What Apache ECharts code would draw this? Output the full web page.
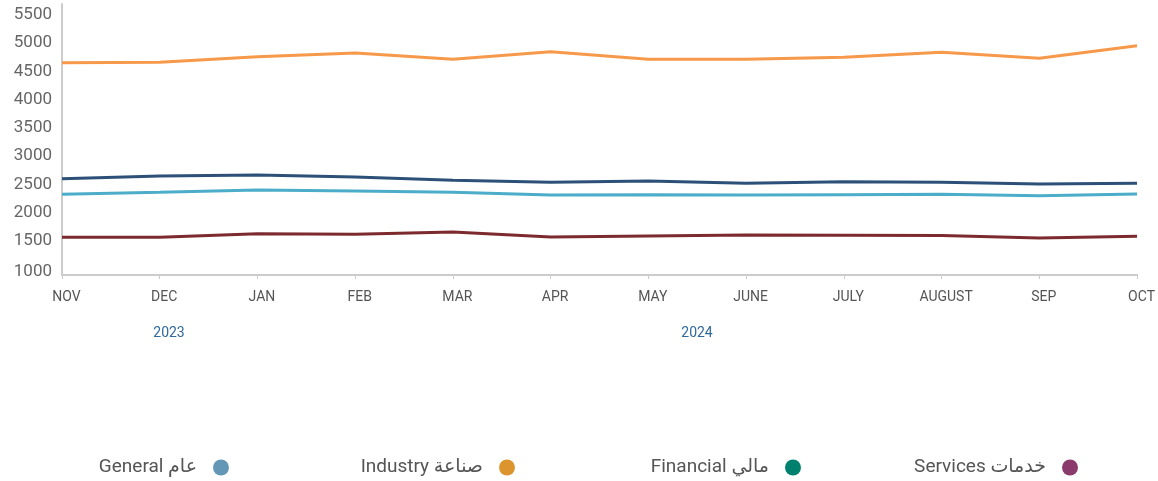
<!DOCTYPE html>
<html>
<head>
<meta charset="utf-8">
<script src="https://cdn.jsdelivr.net/npm/echarts@6/dist/echarts.min.js"></script>
<style>
  html, body { margin: 0; padding: 0; background: #fff; }
  #main { width: 1158px; height: 481px; }
</style>
</head>
<body>
<div id="main"></div>
<script>
// months (Nov 2023 - Oct 2024)
var months = ['NOV', 'DEC', 'JAN', 'FEB', 'MAR', 'APR', 'MAY', 'JUNE', 'JULY', 'AUGUST', 'SEP', 'OCT']
var yTicks = [1000, 1500, 2000, 2500, 3000, 3500, 4000, 4500, 5000, 5500]

// series values
var general = [2600, 2647, 2665, 2629, 2571, 2535, 2558, 2517, 2546, 2535, 2505, 2517]
var industry = [4655, 4662, 4761, 4827, 4715, 4850, 4715, 4715, 4750, 4839, 4733, 4956]
var financial = [2323, 2358, 2399, 2381, 2358, 2310, 2316, 2310, 2316, 2323, 2298, 2328]
var services = [1561, 1561, 1625, 1614, 1655, 1566, 1584, 1602, 1596, 1590, 1549, 1579]

var names = ['General عام', 'Industry صناعة', 'Financial مالي', 'Services خدمات']
var lineColors = ['#2d5078', '#f7994a', '#4badc9', '#7d2a2e']
var legendColors = ['#6497b6', '#dc952e', '#00806e', '#8b3b6b']
var legendRight = [929, 643, 357, 80]

var years = [{ text: '2023', x: 169 }, { text: '2024', x: 697 }]

var myChart = echarts.init(document.getElementById('main'))

var font = 'Roboto, "Noto Sans", "DejaVu Sans", sans-serif'

// one legend per item, so each sits where it does in the picture
var legends = names.map(function (n, i) {
  return {
    data: [{ name: n, itemStyle: { color: legendColors[i] } }],
    right: legendRight[i],
    top: 458,
    padding: 0,
    align: 'right',
    icon: 'circle',
    itemWidth: 16,
    itemHeight: 16,
    textStyle: { color: '#555', fontSize: 19, fontFamily: font, padding: [0, 11, 0, 0] }
  }
})

function makeLine(i, data) {
  return {
    name: names[i],
    type: 'line',
    data: data,
    symbol: 'none',
    lineStyle: { width: 3, color: lineColors[i] },
    itemStyle: { color: lineColors[i] }
  }
}

var option = {
  animation: false,
  grid: { left: 62, right: 19, top: 4, bottom: 206 },
  legend: legends,
  xAxis: {
    type: 'category',
    boundaryGap: false,
    data: months,
    axisLine: { lineStyle: { color: '#cccccc', width: 2 } },
    axisTick: { show: true, length: 4, lineStyle: { color: '#cccccc' } },
    axisLabel: {
      interval: 0,
      color: '#555',
      fontSize: 14,
      fontFamily: font,
      margin: 15,
      padding: [0, 0, 0, 9]
    }
  },
  yAxis: {
    type: 'value',
    min: 892,
    max: 5695,
    splitLine: { show: false },
    axisTick: { show: false },
    axisLine: { show: true, lineStyle: { color: '#cccccc', width: 2 } },
    axisLabel: {
      customValues: yTicks,
      color: '#666',
      fontSize: 17,
      fontFamily: font,
      margin: 10,
      formatter: function (v) {
        return v === 1000 ? '{b|1000}' : String(v)
      },
      rich: { b: { color: '#666', fontSize: 17, fontFamily: font, padding: [6, 0, 0, 0] } }
    }
  },
  graphic: years.map(function (y) {
    return {
      type: 'text',
      x: y.x,
      y: 333,
      style: {
        text: y.text,
        fill: '#2f6b9a',
        font: '14px ' + font,
        textAlign: 'center',
        textVerticalAlign: 'middle'
      }
    }
  }),
  series: [
    makeLine(0, general),
    makeLine(1, industry),
    makeLine(2, financial),
    makeLine(3, services)
  ]
}

myChart.setOption(option)
</script>
</body>
</html>
